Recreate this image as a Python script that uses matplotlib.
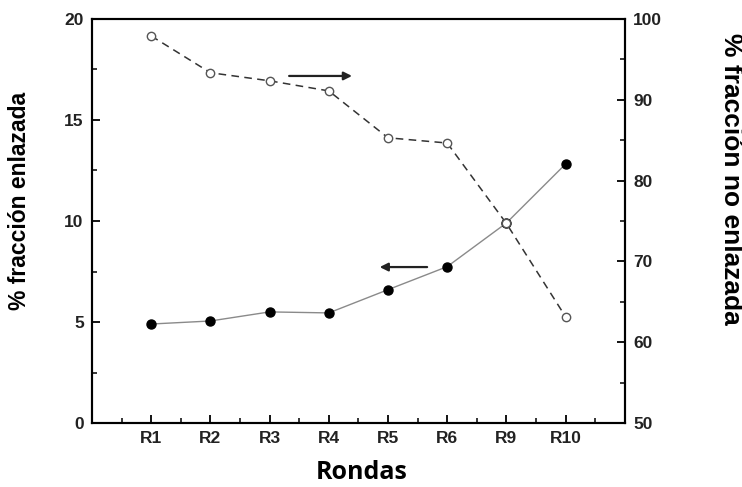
import matplotlib
matplotlib.use("Agg")
import matplotlib.pyplot as plt
from matplotlib.ticker import MultipleLocator

# rondas de selección
rondas = ['R1', 'R2', 'R3', 'R4', 'R5', 'R6', 'R9', 'R10']
# % fracción enlazada (eje izquierdo)
enlazada = [4.9, 5.05, 5.5, 5.45, 6.6, 7.74, 9.9, 12.82]
# % fracción no enlazada (eje derecho)
no_enlazada = [97.9, 93.35, 92.35, 91.1, 85.3, 84.65, 74.7, 63.15]

plt.rcParams['font.family'] = ['Liberation Sans', 'DejaVu Sans']
plt.rcParams['font.weight'] = 'bold'

fig = plt.figure(figsize=(7.42, 4.87), dpi=100)
ax = fig.add_axes([0.124, 0.1314, 0.718, 0.8296])
ax2 = ax.twinx()

x = list(range(1, len(rondas) + 1))

ax.plot(x, enlazada, '-', color='#8a8a8a', lw=1.0, marker='o', ms=6.5,
        mfc='black', mec='black', zorder=3)
ax2.plot(x, no_enlazada, '--', color='#333333', lw=1.1, dashes=(5, 3.5),
         marker='o', ms=6, mfc='white', mec='#555555', mew=1.0, zorder=3)

ax.set_xlim(0, 9)
ax.set_ylim(0, 20)
ax2.set_ylim(50, 100)

ax.set_xticks(x)
ax.set_xticklabels(rondas, fontweight='bold')
ax.xaxis.set_minor_locator(MultipleLocator(0.5))
ax.yaxis.set_major_locator(MultipleLocator(5))
ax.yaxis.set_minor_locator(MultipleLocator(2.5))
ax2.yaxis.set_major_locator(MultipleLocator(10))
ax2.yaxis.set_minor_locator(MultipleLocator(5))

for a in (ax, ax2):
    for s in a.spines.values():
        s.set_linewidth(1.5)
    a.tick_params(which='major', direction='in', length=6, width=1.3,
                  labelsize=12.5, pad=6, colors='black', labelcolor='#222222')
    a.tick_params(which='minor', direction='in', length=3.5, width=1.1)
ax.tick_params(axis='x', which='both', top=False)
ax2.tick_params(axis='x', which='both', top=False, bottom=False)

# flechas que indican a qué eje pertenece cada serie
ax.annotate('', xy=(0.488, 0.859), xytext=(0.370, 0.859),
            xycoords='axes fraction',
            arrowprops=dict(arrowstyle='-|>', color='#222222', lw=1.6,
                            mutation_scale=12, shrinkA=0, shrinkB=0))
ax.annotate('', xy=(0.540, 0.386), xytext=(0.629, 0.386),
            xycoords='axes fraction',
            arrowprops=dict(arrowstyle='-|>', color='#222222', lw=1.6,
                            mutation_scale=12, shrinkA=0, shrinkB=0))

ax.text(-0.137, 0.55, '% fracción enlazada', transform=ax.transAxes,
        rotation=90, ha='center', va='center', fontsize=16.5,
        fontweight='bold')
ax.text(1.199, 0.605, '% fracción no enlazada', transform=ax.transAxes,
        rotation=270, ha='center', va='center', fontsize=19,
        fontweight='bold')
ax.text(0.507, -0.122, 'Rondas', transform=ax.transAxes,
        ha='center', va='center', fontsize=18, fontweight='bold',
        family=['Open Sans', 'DejaVu Sans'])

fig.savefig('out.png', dpi=100)
